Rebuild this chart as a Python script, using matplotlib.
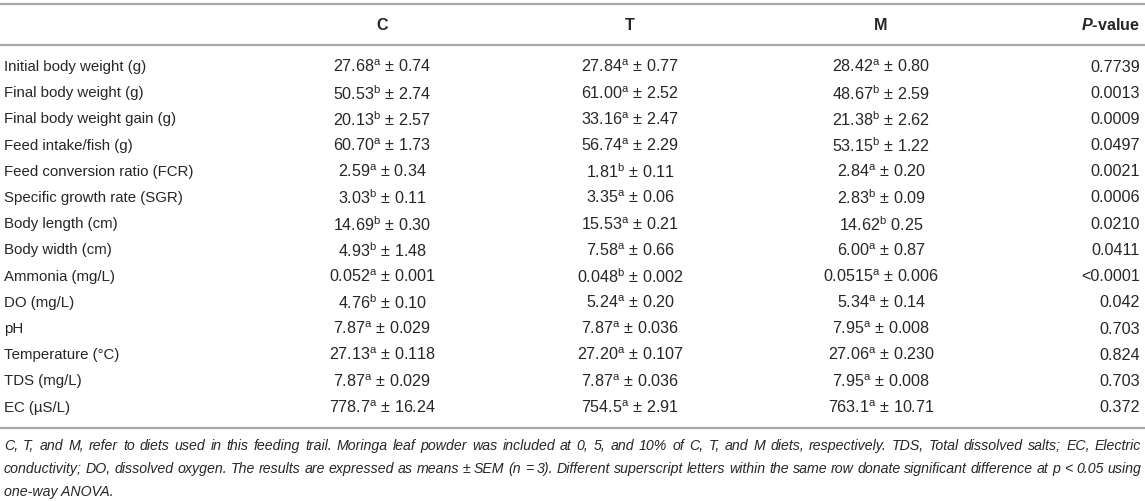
"""Table: growth performance and water quality of fish fed moringa diets."""

import matplotlib

matplotlib.use("Agg")
import matplotlib.pyplot as plt  # noqa: E402

plt.rcParams["font.family"] = ["Liberation Sans", "DejaVu Sans"]
plt.rcParams["mathtext.fontset"] = "custom"
plt.rcParams["mathtext.rm"] = "Liberation Sans"
plt.rcParams["mathtext.it"] = "Liberation Sans:italic"
plt.rcParams["mathtext.bf"] = "Liberation Sans:bold"
plt.rcParams["mathtext.bfit"] = "Liberation Sans:italic:bold"

TXT = "#262626"
RULE = "#a8a8a8"

headers = ["C", "T", "M"]

rows = [
    "Initial body weight (g)", "Final body weight (g)", "Final body weight gain (g)",
    "Feed intake/fish (g)", "Feed conversion ratio (FCR)", "Specific growth rate (SGR)",
    "Body length (cm)", "Body width (cm)", "Ammonia (mg/L)", "DO (mg/L)", "pH",
    "Temperature (°C)", "TDS (mg/L)", "EC (µS/L)",
]

c_mean = ["27.68", "50.53", "20.13", "60.70", "2.59", "3.03", "14.69", "4.93",
          "0.052", "4.76", "7.87", "27.13", "7.87", "778.7"]
c_let = ["a", "b", "b", "a", "a", "b", "b", "b", "a", "b", "a", "a", "a", "a"]
c_sem = ["0.74", "2.74", "2.57", "1.73", "0.34", "0.11", "0.30", "1.48",
         "0.001", "0.10", "0.029", "0.118", "0.029", "16.24"]

t_mean = ["27.84", "61.00", "33.16", "56.74", "1.81", "3.35", "15.53", "7.58",
          "0.048", "5.24", "7.87", "27.20", "7.87", "754.5"]
t_let = ["a", "a", "a", "a", "b", "a", "a", "a", "b", "a", "a", "a", "a", "a"]
t_sem = ["0.77", "2.52", "2.47", "2.29", "0.11", "0.06", "0.21", "0.66",
         "0.002", "0.20", "0.036", "0.107", "0.036", "2.91"]

m_mean = ["28.42", "48.67", "21.38", "53.15", "2.84", "2.83", "14.62", "6.00",
          "0.0515", "5.34", "7.95", "27.06", "7.95", "763.1"]
m_let = ["a", "b", "b", "b", "a", "b", "b", "a", "a", "a", "a", "a", "a", "a"]
m_sem = ["0.80", "2.59", "2.62", "1.22", "0.20", "0.09", "0.25", "0.87",
         "0.006", "0.14", "0.008", "0.230", "0.008", "10.71"]
m_pm = [True] * 6 + [False] + [True] * 7  # the source omits ± on body length

p_vals = ["0.7739", "0.0013", "0.0009", "0.0497", "0.0021", "0.0006", "0.0210",
          "0.0411", "<0.0001", "0.042", "0.703", "0.824", "0.703", "0.372"]

footnote = [
    "C, T, and M, refer to diets used in this feeding trail. Moringa leaf powder was included at 0, 5, "
    "and 10% of C, T, and M diets, respectively. TDS, Total dissolved salts; EC, Electric",
    "conductivity; DO, dissolved oxygen. The results are expressed as means ± SEM (n = 3). Different "
    "superscript letters within the same row donate significant difference at p < 0.05 using",
    "one-way ANOVA.",
]

W, H = 1145, 501
fig = plt.figure(figsize=(W / 100, H / 100), dpi=100)
ax = fig.add_axes([0, 0, 1, 1])
ax.set_xlim(0, W)
ax.set_ylim(H, 0)
ax.axis("off")
renderer = fig.canvas.get_renderer()

col_x = [382, 630, 881]
p_x = 1140
row_y0, row_dy = 67, 26.2
fs_lab = 10.8
fs_num = 11.6

# rules
for y in (4, 45, 428):
    ax.plot([0, W], [y, y], color=RULE, linewidth=1.6, solid_capstyle="butt")

# header
for x, h in zip(col_x, headers):
    ax.text(x, 25, h, ha="center", va="center", color=TXT, fontsize=fs_num, fontweight="bold")
ax.text(p_x, 25, r"$\mathbfit{P}$-value", ha="right", va="center", color=TXT,
        fontsize=fs_num, fontweight="bold")


def cell(mean, let, sem, pm=True):
    sep = " ± " if pm else " "
    return mean + r"$^{\mathrm{" + let + "}}$" + sep + sem


for i, name in enumerate(rows):
    y = row_y0 + i * row_dy
    ax.text(4, y, name, ha="left", va="center", color=TXT, fontsize=fs_lab)
    ax.text(col_x[0], y, cell(c_mean[i], c_let[i], c_sem[i]), ha="center", va="center",
            color=TXT, fontsize=fs_num)
    ax.text(col_x[1], y, cell(t_mean[i], t_let[i], t_sem[i]), ha="center", va="center",
            color=TXT, fontsize=fs_num)
    ax.text(col_x[2], y, cell(m_mean[i], m_let[i], m_sem[i], m_pm[i]), ha="center",
            va="center", color=TXT, fontsize=fs_num)
    ax.text(p_x, y, p_vals[i], ha="right", va="center", color=TXT, fontsize=fs_num)


# footnote, justified like the journal layout (last line ragged)
def put_line(text, y, justify):
    kw = dict(ha="left", va="center", color=TXT, fontsize=10.2, style="italic")
    if not justify:
        ax.text(4, y, text, **kw)
        return
    words = text.split(" ")
    items = [ax.text(0, y, w, **kw) for w in words]
    widths = [t.get_window_extent(renderer).width for t in items]
    gap = (1141 - 4 - sum(widths)) / (len(words) - 1)
    x = 4
    for t, w in zip(items, widths):
        t.set_x(x)
        x += w + gap


for j, line in enumerate(footnote):
    put_line(line, 446 + j * 23, j < len(footnote) - 1)

fig.savefig("out.png", dpi=100, facecolor="white")
plt.close(fig)
